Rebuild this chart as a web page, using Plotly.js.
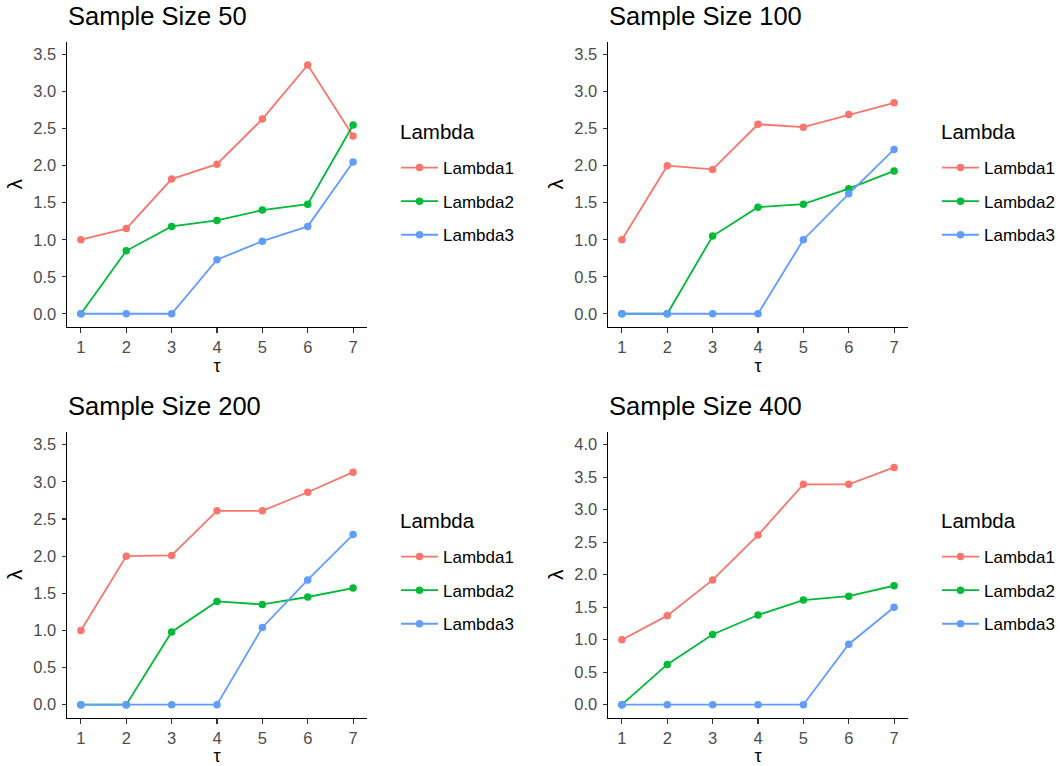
<!DOCTYPE html>
<html>
<head>
<meta charset="utf-8">
<script src="https://cdn.plot.ly/plotly-3.0.1.min.js"></script>
<style>html,body{margin:0;padding:0;background:#fff;}#chart{width:1060px;height:766px;}</style>
</head>
<body>
<div id="chart"></div>
<script>
const tau = [1, 2, 3, 4, 5, 6, 7];
const seriesNames = ["Lambda1", "Lambda2", "Lambda3"];
const legendTitle = "Lambda";
const panelTitles = ["Sample Size 50", "Sample Size 100", "Sample Size 200", "Sample Size 400"];

// Sample size 50
const n50_lambda1 = [1.00, 1.15, 1.82, 2.02, 2.63, 3.36, 2.40];
const n50_lambda2 = [0.00, 0.85, 1.18, 1.26, 1.40, 1.48, 2.55];
const n50_lambda3 = [0.00, 0.00, 0.00, 0.73, 0.98, 1.18, 2.05];
// Sample size 100
const n100_lambda1 = [1.00, 2.00, 1.95, 2.56, 2.52, 2.69, 2.85];
const n100_lambda2 = [0.00, 0.00, 1.05, 1.44, 1.48, 1.69, 1.93];
const n100_lambda3 = [0.00, 0.00, 0.00, 0.00, 1.00, 1.62, 2.22];
// Sample size 200
const n200_lambda1 = [1.00, 2.00, 2.01, 2.61, 2.61, 2.86, 3.13];
const n200_lambda2 = [0.00, 0.00, 0.98, 1.39, 1.35, 1.45, 1.57];
const n200_lambda3 = [0.00, 0.00, 0.00, 0.00, 1.04, 1.68, 2.29];
// Sample size 400
const n400_lambda1 = [1.00, 1.37, 1.92, 2.61, 3.39, 3.39, 3.65];
const n400_lambda2 = [0.00, 0.62, 1.08, 1.38, 1.61, 1.67, 1.83];
const n400_lambda3 = [0.00, 0.00, 0.00, 0.00, 0.00, 0.93, 1.50];

const yLimits = [[0, 3.5], [0, 3.5], [0, 3.5], [0, 4.0]];

const panels = [
  [n50_lambda1, n50_lambda2, n50_lambda3],
  [n100_lambda1, n100_lambda2, n100_lambda3],
  [n200_lambda1, n200_lambda2, n200_lambda3],
  [n400_lambda1, n400_lambda2, n400_lambda3]
];
const colors = ["#F8766D", "#00BA38", "#619CFF"];

const W = 1060, H = 766;
const FONT = "Liberation Sans, Arial, sans-serif";
// plot areas in pixels [x0, x1, yTop, yBottom]
const boxes = [
  [67.3, 366.7, 41.7, 326.7],
  [608.3, 907.7, 41.7, 326.7],
  [67.3, 366.7, 431.7, 717.7],
  [608.3, 907.7, 431.7, 717.7]
];
const legendPos = [[396, 150], [937, 150], [396, 539], [937, 539]];
const legendTitlePos = [[398, 131], [939, 131], [398, 520], [939, 520]];
const titlePos = [[66, 16], [607, 16], [66, 406], [607, 406]];

const traces = [];
const layout = {
  width: W, height: H,
  margin: {l: 0, r: 0, t: 0, b: 0},
  paper_bgcolor: "#ffffff",
  plot_bgcolor: "#ffffff",
  font: {family: FONT, color: "#000000"},
  showlegend: true,
  annotations: []
};

panels.forEach((series, p) => {
  const k = p + 1;
  const xa = "x" + (k === 1 ? "" : k);
  const ya = "y" + (k === 1 ? "" : k);
  const lg = "legend" + (k === 1 ? "" : k);
  series.forEach((vals, s) => {
    traces.push({
      type: "scatter", mode: "lines+markers",
      x: tau, y: vals, name: seriesNames[s],
      xaxis: xa, yaxis: ya, legend: lg,
      legendgroup: "p" + k + "s" + s,
      line: {color: colors[s], width: 1.8},
      marker: {color: colors[s], size: 7.5},
      cliponaxis: false
    });
  });
  const b = boxes[p];
  const lo = yLimits[p][0], hi = yLimits[p][1];
  const padY = (hi - lo) * 0.05;
  layout["xaxis" + (k === 1 ? "" : k)] = {
    domain: [b[0] / W, b[1] / W],
    anchor: ya,
    range: [0.7, 7.3],
    tickvals: tau, ticktext: tau.map(String),
    showgrid: false, zeroline: false,
    showline: true, linecolor: "#000000", linewidth: 1.3,
    ticks: "outside", ticklen: 4.5, tickwidth: 1.1, tickcolor: "#333333",
    tickfont: {family: FONT, size: 16.5, color: "#4D4D4D"},
    ticklabelstandoff: 1,
    title: {text: "τ", font: {family: FONT, size: 18, color: "#000000"}, standoff: 0},
    fixedrange: true
  };
  layout["yaxis" + (k === 1 ? "" : k)] = {
    domain: [1 - b[3] / H, 1 - b[2] / H],
    anchor: xa,
    range: [lo - padY, hi + padY],
    dtick: 0.5, tick0: 0, tickformat: ".1f",
    showgrid: false, zeroline: false,
    showline: true, linecolor: "#000000", linewidth: 1.3,
    ticks: "outside", ticklen: 4.5, tickwidth: 1.1, tickcolor: "#333333",
    tickfont: {family: FONT, size: 16.5, color: "#4D4D4D"},
    ticklabelstandoff: 2,
    title: {text: "λ", font: {family: FONT, size: 21, color: "#000000"}, standoff: 5},
    fixedrange: true
  };
  layout[lg] = {
    x: legendPos[p][0] / W, y: 1 - legendPos[p][1] / H,
    xanchor: "left", yanchor: "top",
    xref: "paper", yref: "paper",
    bgcolor: "rgba(0,0,0,0)",
    font: {family: FONT, size: 17, color: "#000000"},
    tracegroupgap: 8.5,
    traceorder: "grouped",
    itemwidth: 37,
    itemclick: false, itemdoubleclick: false
  };
  layout.annotations.push({
    text: legendTitle,
    xref: "paper", yref: "paper",
    x: legendTitlePos[p][0] / W, y: 1 - legendTitlePos[p][1] / H,
    xanchor: "left", yanchor: "middle",
    showarrow: false,
    font: {family: FONT, size: 20.5, color: "#000000"}
  });
  layout.annotations.push({
    text: panelTitles[p],
    xref: "paper", yref: "paper",
    x: titlePos[p][0] / W, y: 1 - titlePos[p][1] / H,
    xanchor: "left", yanchor: "middle",
    showarrow: false,
    font: {family: FONT, size: 25.5, color: "#000000"}
  });
});

Plotly.newPlot("chart", traces, layout, {displayModeBar: false, staticPlot: true});
</script>
</body>
</html>
